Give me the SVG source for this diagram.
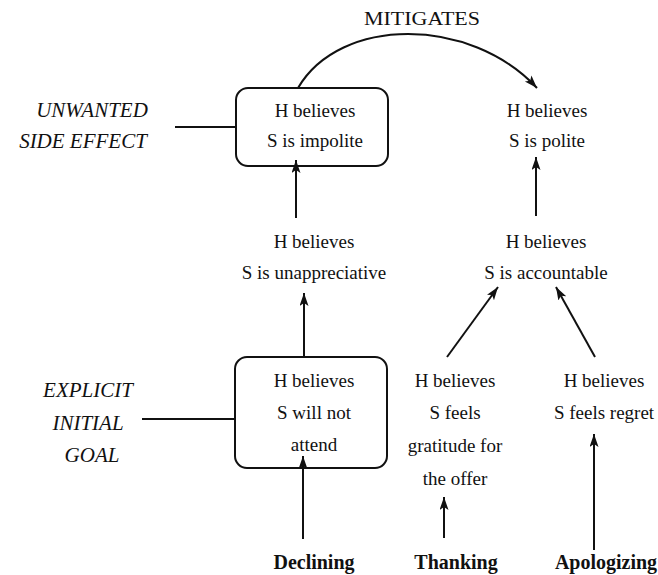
<svg xmlns="http://www.w3.org/2000/svg" width="658" height="575" viewBox="0 0 658 575">
<style>
text{font-family:"Liberation Serif","Times New Roman",serif;fill:#111;text-anchor:middle}
.t{font-size:19px}
.i{font-size:21px;font-style:italic}
.b{font-size:20px;font-weight:bold}
.m{font-size:19px}
.box{fill:none;stroke:#111;stroke-width:2}
.ln{fill:none;stroke:#111;stroke-width:2}
.ar{fill:none;stroke:#111;stroke-width:2;marker-end:url(#ah)}
</style>
<defs>
<marker id="ah" markerUnits="userSpaceOnUse" markerWidth="14" markerHeight="10" refX="13" refY="4.5" orient="auto">
<path d="M0,0 L13,4.5 L0,9 L3,4.5 Z" fill="#111"/>
</marker>
</defs>
<rect width="658" height="575" fill="#fff"/>
<g id="connectors">
<path class="ar" d="M298,88 C340,16 470,16 537,88"/>
<line class="ln" x1="175" y1="127" x2="236" y2="127"/>
<line class="ln" x1="142" y1="419" x2="235" y2="419"/>
<line class="ar" x1="296" y1="218" x2="296" y2="160"/>
<line class="ar" x1="536" y1="216" x2="536" y2="157"/>
<line class="ar" x1="304" y1="358" x2="304" y2="293"/>
<line class="ar" x1="447" y1="357" x2="498" y2="287"/>
<line class="ar" x1="595" y1="357" x2="556" y2="287"/>
<line class="ar" x1="303" y1="539" x2="303" y2="456"/>
<line class="ar" x1="444" y1="538" x2="444" y2="497"/>
<line class="ar" x1="594" y1="550" x2="594" y2="434"/>
</g>
<g id="label-mitigates"><text class="m" x="422" y="25" textLength="116" lengthAdjust="spacingAndGlyphs">MITIGATES</text></g>
<g id="label-unwanted">
<text class="i" x="92" y="117">UNWANTED</text>
<text class="i" x="83" y="148">SIDE EFFECT</text>
</g>
<g id="label-explicit">
<text class="i" x="88" y="397">EXPLICIT</text>
<text class="i" x="88" y="430">INITIAL</text>
<text class="i" x="92" y="462">GOAL</text>
</g>
<g id="node-impolite">
<rect class="box" x="236" y="88" width="152" height="78" rx="12"/>
<text class="t" x="315" y="117">H believes</text>
<text class="t" x="315" y="147">S is impolite</text>
</g>
<g id="node-polite">
<text class="t" x="547" y="117">H believes</text>
<text class="t" x="547" y="147">S is polite</text>
</g>
<g id="node-unappreciative">
<text class="t" x="314" y="248">H believes</text>
<text class="t" x="314" y="279">S is unappreciative</text>
</g>
<g id="node-accountable">
<text class="t" x="546" y="248">H believes</text>
<text class="t" x="546" y="279">S is accountable</text>
</g>
<g id="node-will-not-attend">
<rect class="box" x="235" y="357" width="152" height="111" rx="12"/>
<text class="t" x="314" y="387">H believes</text>
<text class="t" x="314" y="419">S will not</text>
<text class="t" x="314" y="451">attend</text>
</g>
<g id="node-gratitude">
<text class="t" x="455" y="387">H believes</text>
<text class="t" x="455" y="419">S feels</text>
<text class="t" x="455" y="452">gratitude for</text>
<text class="t" x="455" y="485">the offer</text>
</g>
<g id="node-regret">
<text class="t" x="604" y="387">H believes</text>
<text class="t" x="604" y="419">S feels regret</text>
</g>
<g id="node-declining"><text class="b" x="314" y="569">Declining</text></g>
<g id="node-thanking"><text class="b" x="456" y="569">Thanking</text></g>
<g id="node-apologizing"><text class="b" x="606" y="569">Apologizing</text></g>
</svg>
